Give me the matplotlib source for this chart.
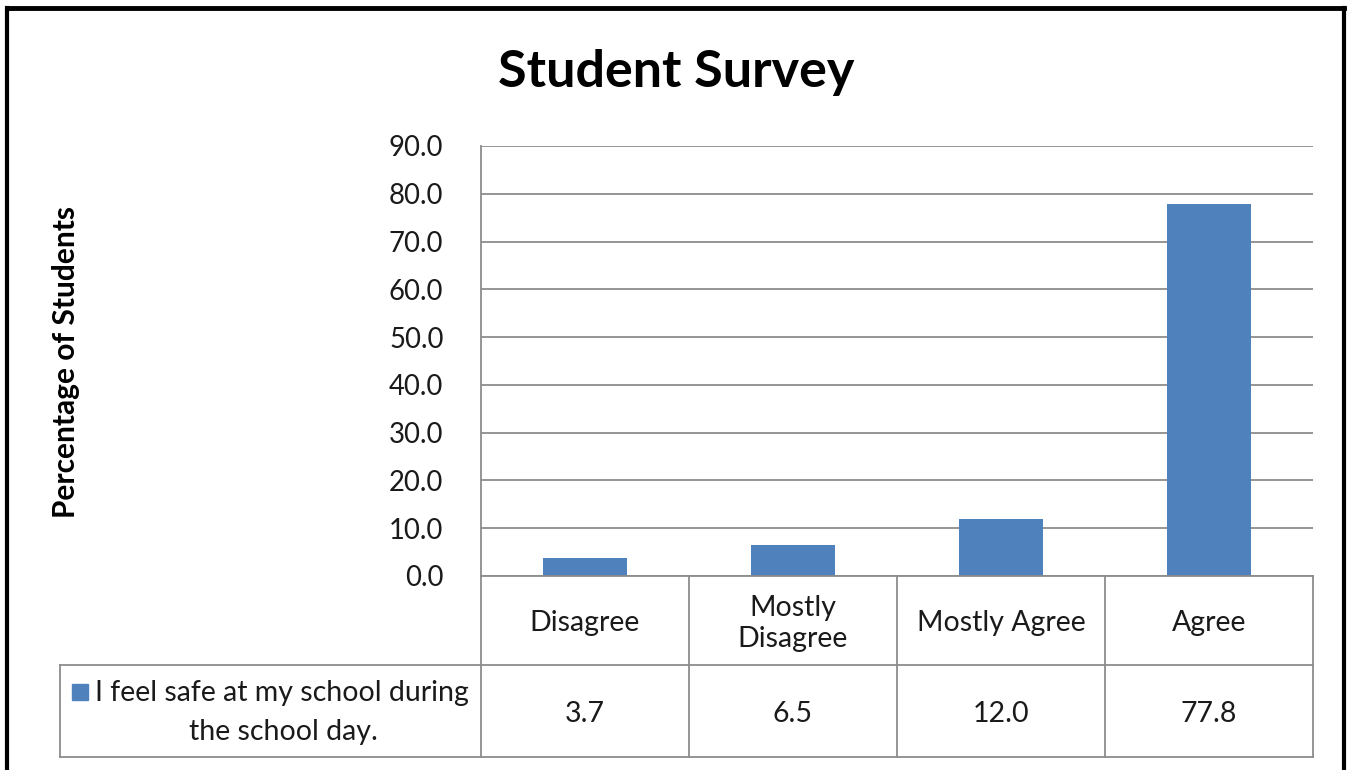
import numpy as np
import matplotlib.pyplot as plt
from matplotlib.lines import Line2D
from matplotlib.patches import Rectangle

# Survey data
categories = ['Disagree', 'Mostly\nDisagree', 'Mostly Agree', 'Agree']
values = [3.7, 6.5, 12.0, 77.8]
series_name = 'I feel safe at my school during the school day.'
yticks = np.arange(0, 91, 10)

W, H = 1350, 770
bar_color = '#4F81BD'
grid_color = '#8C8C8C'
text_color = '#1a1a1a'
font = 'Lato'


def fx(px):
    return px / W


def fy(py):
    return 1 - py / H


fig = plt.figure(figsize=(13.5, 7.7), dpi=100)

# plot area
left, right, top, bottom = 481, 1313, 146, 576
ax = fig.add_axes([fx(left), fy(bottom), fx(right - left), (bottom - top) / H])
x = np.arange(len(categories))
ax.bar(x, values, width=0.4, color=bar_color, zorder=3)
ax.set_xlim(-0.5, len(categories) - 0.5)
ax.set_ylim(0, 90)
ax.set_yticks(yticks)
ax.set_yticklabels([f'{v:.1f}' for v in yticks], fontsize=19.8, family=font, color=text_color)
ax.set_xticks([])
ax.tick_params(axis='y', length=0, pad=27)
ax.yaxis.grid(True, color=grid_color, linewidth=1.3, zorder=0)
for s in ['top', 'right', 'bottom']:
    ax.spines[s].set_visible(False)
ax.spines['left'].set_color(grid_color)
ax.spines['left'].set_linewidth(1.3)

# title and y label
fig.text(fx(676), fy(73), 'Student Survey', ha='center', va='center',
         fontsize=37.5, fontweight='bold', family=font)
fig.text(fx(66), fy(362), 'Percentage of Students', ha='center', va='center',
         rotation=90, fontsize=21.5, fontweight='bold', family=font)

# data table below the plot
row1, row2 = 665, 757
col_edges = np.linspace(left, right, len(categories) + 1)
leg_left = 60


def hline(x0, x1, y):
    fig.add_artist(Line2D([fx(x0), fx(x1)], [fy(y), fy(y)], color=grid_color, linewidth=1.3))


def vline(xp, y0, y1):
    fig.add_artist(Line2D([fx(xp), fx(xp)], [fy(y0), fy(y1)], color=grid_color, linewidth=1.3))


hline(left, right, bottom)
hline(leg_left, right, row1)
hline(leg_left, right, row2)
for xe in col_edges:
    vline(xe, bottom, row2)
vline(leg_left, row1, row2)

for i, cat in enumerate(categories):
    cx = (col_edges[i] + col_edges[i + 1]) / 2
    fig.text(fx(cx), fy((bottom + row1) / 2 + 3), cat, ha='center', va='center',
             fontsize=20.5, family=font, linespacing=1.25, color=text_color)
    fig.text(fx(cx), fy((row1 + row2) / 2 + 3), f'{values[i]:.1f}', ha='center', va='center',
             fontsize=20.5, family=font, color=text_color)

# legend key and series name
fig.add_artist(Rectangle((fx(72), fy(700)), fx(16), 16 / H, color=bar_color))
line1, line2 = 'I feel safe at my school during', 'the school day.'
fig.text(fx(95), fy(693), line1, ha='left', va='center', fontsize=20.5, family=font, color=text_color)
fig.text(fx(283), fy(732), line2, ha='center', va='center', fontsize=20.5, family=font, color=text_color)

# outer frame (top, left, right only)
fig.add_artist(Line2D([fx(7), fx(1344)], [fy(8), fy(8)], color='black', linewidth=3.5))
fig.add_artist(Line2D([fx(7), fx(7)], [fy(8), 0], color='black', linewidth=3))
fig.add_artist(Line2D([fx(1344), fx(1344)], [fy(8), 0], color='black', linewidth=3))

fig.savefig('out.png', dpi=100, facecolor='white')
